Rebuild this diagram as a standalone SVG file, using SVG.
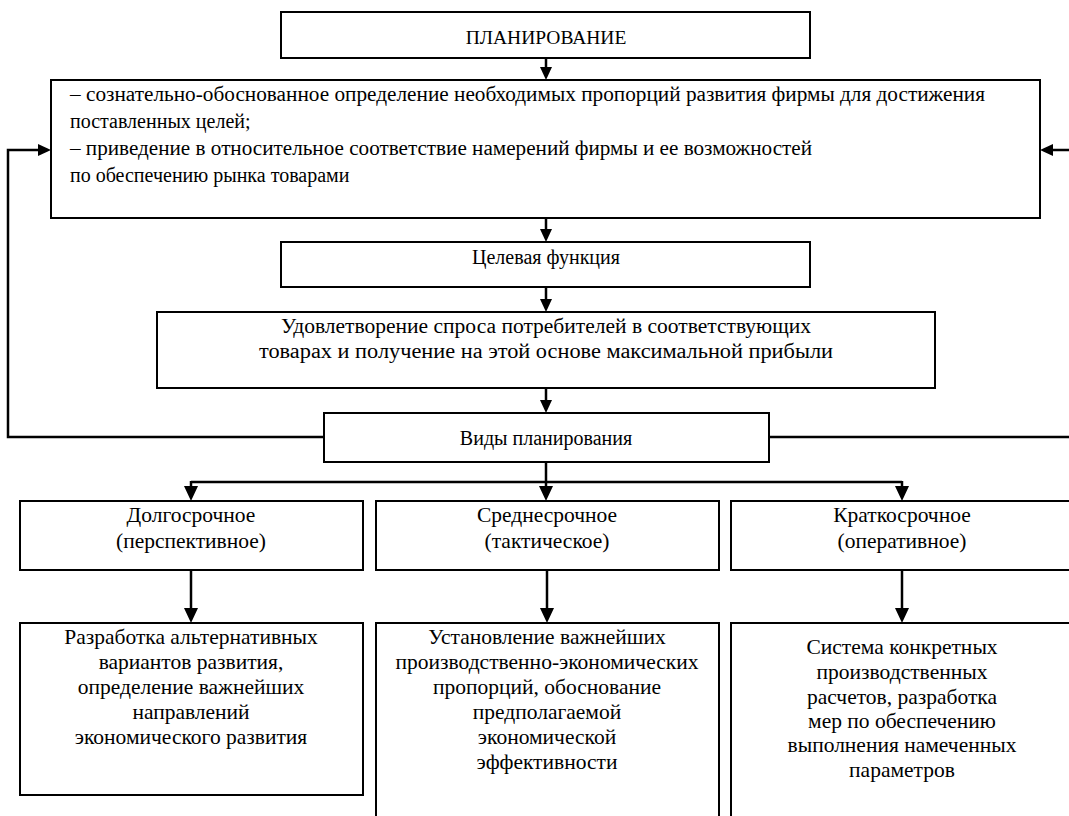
<svg xmlns="http://www.w3.org/2000/svg" width="1069" height="816" viewBox="0 0 1069 816">
<rect width="1069" height="816" fill="#fff"/>
<g id="connectors" stroke="#000" stroke-width="2.5" fill="none">
<path d="M546,58 V70"/>
<path d="M546,218 V230"/>
<path d="M546,287 V300"/>
<path d="M546,388 V401"/>
<path d="M324,437 H8 V150 H40"/>
<path d="M769,437 H1075 V150 H1052"/>
<path d="M546,462 V482"/>
<path d="M191,482 H902"/>
<path d="M191,481 V488"/>
<path d="M546,481 V488"/>
<path d="M902,481 V488"/>
<path d="M191,570 V609"/>
<path d="M547,570 V609"/>
<path d="M902,570 V609"/>
</g>
<g id="arrowheads" fill="#000" stroke="none">
<polygon points="540,67 552,67 546,80"/>
<polygon points="540,229 552,229 546,242"/>
<polygon points="540,299 552,299 546,312"/>
<polygon points="540,400 552,400 546,413"/>
<polygon points="38,144 38,156 51,150"/>
<polygon points="1053,144 1053,156 1040,150"/>
<polygon points="184,486 198,486 191,501"/>
<polygon points="539,486 553,486 546,501"/>
<polygon points="895,486 909,486 902,501"/>
<polygon points="184,608 198,608 191,623"/>
<polygon points="540,608 554,608 547,623"/>
<polygon points="895,608 909,608 902,623"/>
</g>
<g id="n-planning">
<rect x="281" y="12" width="529" height="46" fill="#fff" stroke="#000" stroke-width="2"/>
<text x="546" y="44" text-anchor="middle" font-family="Liberation Serif" font-size="19.5">ПЛАНИРОВАНИЕ</text>
</g>
<g id="n-definition">
<rect x="51" y="80" width="989" height="138" fill="#fff" stroke="#000" stroke-width="2"/>
<text x="70" y="101" font-family="Liberation Serif" font-size="20" textLength="915" lengthAdjust="spacingAndGlyphs">– сознательно-обоснованное определение необходимых пропорций развития фирмы для достижения</text>
<text x="70" y="128" font-family="Liberation Serif" font-size="20">поставленных целей;</text>
<text x="70" y="155" font-family="Liberation Serif" font-size="20" textLength="742" lengthAdjust="spacingAndGlyphs">– приведение в относительное соответствие намерений фирмы и ее возможностей</text>
<text x="70" y="182" font-family="Liberation Serif" font-size="20">по обеспечению рынка товарами</text>
</g>
<g id="n-goal">
<rect x="281" y="242" width="529" height="45" fill="#fff" stroke="#000" stroke-width="2"/>
<text x="546" y="264" text-anchor="middle" font-family="Liberation Serif" font-size="20">Целевая функция</text>
</g>
<g id="n-satisfaction">
<rect x="157" y="312" width="778" height="76" fill="#fff" stroke="#000" stroke-width="2"/>
<text x="546" y="333" text-anchor="middle" font-family="Liberation Serif" font-size="20" textLength="530" lengthAdjust="spacingAndGlyphs">Удовлетворение спроса потребителей в соответствующих</text>
<text x="546" y="358" text-anchor="middle" font-family="Liberation Serif" font-size="20" textLength="574" lengthAdjust="spacingAndGlyphs">товарах и получение на этой основе максимальной прибыли</text>
</g>
<g id="n-types">
<rect x="324" y="413" width="445" height="49" fill="#fff" stroke="#000" stroke-width="2"/>
<text x="546" y="445" text-anchor="middle" font-family="Liberation Serif" font-size="20">Виды планирования</text>
</g>
<g id="n-long">
<rect x="20" y="501" width="343" height="69" fill="#fff" stroke="#000" stroke-width="2"/>
<text x="191" y="522" text-anchor="middle" font-family="Liberation Serif" font-size="21.5">Долгосрочное</text>
<text x="191" y="548" text-anchor="middle" font-family="Liberation Serif" font-size="21.5">(перспективное)</text>
</g>
<g id="n-mid">
<rect x="376" y="501" width="343" height="69" fill="#fff" stroke="#000" stroke-width="2"/>
<text x="547" y="522" text-anchor="middle" font-family="Liberation Serif" font-size="21.5">Среднесрочное</text>
<text x="547" y="548" text-anchor="middle" font-family="Liberation Serif" font-size="21.5">(тактическое)</text>
</g>
<g id="n-short">
<rect x="731" y="501" width="345" height="69" fill="#fff" stroke="#000" stroke-width="2"/>
<text x="902" y="522" text-anchor="middle" font-family="Liberation Serif" font-size="21.5">Краткосрочное</text>
<text x="902" y="548" text-anchor="middle" font-family="Liberation Serif" font-size="21.5">(оперативное)</text>
</g>
<g id="n-long-desc">
<rect x="20" y="623" width="343" height="172" fill="#fff" stroke="#000" stroke-width="2"/>
<text x="191" y="644" text-anchor="middle" font-family="Liberation Serif" font-size="21.5">Разработка альтернативных</text>
<text x="191" y="669" text-anchor="middle" font-family="Liberation Serif" font-size="21.5">вариантов развития,</text>
<text x="191" y="694" text-anchor="middle" font-family="Liberation Serif" font-size="21.5">определение важнейших</text>
<text x="191" y="719" text-anchor="middle" font-family="Liberation Serif" font-size="21.5">направлений</text>
<text x="191" y="744" text-anchor="middle" font-family="Liberation Serif" font-size="21.5">экономического развития</text>
</g>
<g id="n-mid-desc">
<rect x="376" y="623" width="343" height="200" fill="#fff" stroke="#000" stroke-width="2"/>
<text x="547" y="644" text-anchor="middle" font-family="Liberation Serif" font-size="21.5">Установление важнейших</text>
<text x="547" y="669" text-anchor="middle" font-family="Liberation Serif" font-size="21.5">производственно-экономических</text>
<text x="547" y="694" text-anchor="middle" font-family="Liberation Serif" font-size="21.5">пропорций, обоснование</text>
<text x="547" y="719" text-anchor="middle" font-family="Liberation Serif" font-size="21.5">предполагаемой</text>
<text x="547" y="744" text-anchor="middle" font-family="Liberation Serif" font-size="21.5">экономической</text>
<text x="547" y="769" text-anchor="middle" font-family="Liberation Serif" font-size="21.5">эффективности</text>
</g>
<g id="n-short-desc">
<rect x="731" y="623" width="345" height="200" fill="#fff" stroke="#000" stroke-width="2"/>
<text x="902" y="654" text-anchor="middle" font-family="Liberation Serif" font-size="21.5">Система конкретных</text>
<text x="902" y="679" text-anchor="middle" font-family="Liberation Serif" font-size="21.5">производственных</text>
<text x="902" y="704" text-anchor="middle" font-family="Liberation Serif" font-size="21.5">расчетов, разработка</text>
<text x="902" y="728" text-anchor="middle" font-family="Liberation Serif" font-size="21.5">мер по обеспечению</text>
<text x="902" y="752" text-anchor="middle" font-family="Liberation Serif" font-size="21.5">выполнения намеченных</text>
<text x="902" y="777" text-anchor="middle" font-family="Liberation Serif" font-size="21.5">параметров</text>
</g>
</svg>
